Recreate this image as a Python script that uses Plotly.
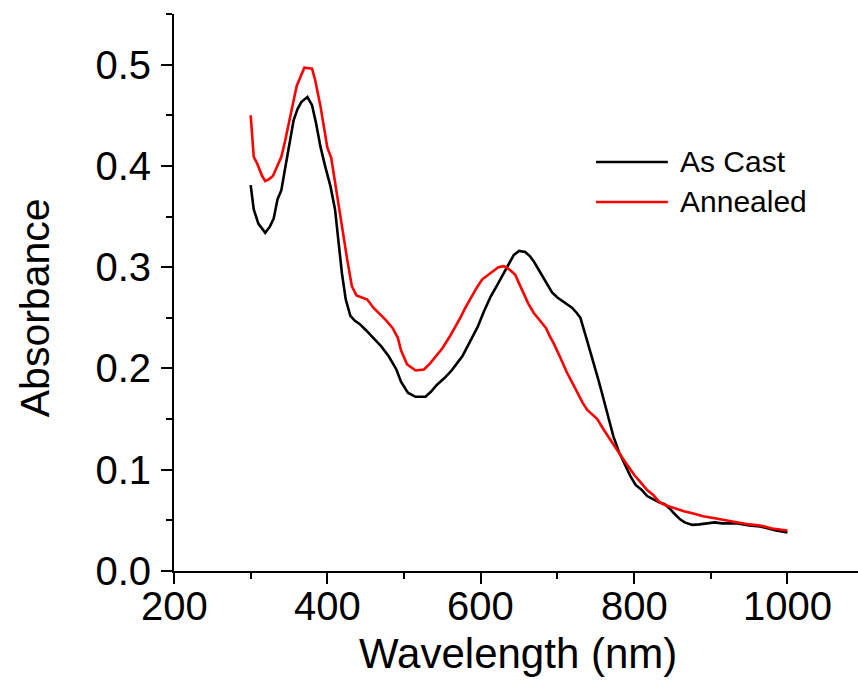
import plotly.graph_objects as go

wl_cast = [300, 304, 310, 319, 325, 330, 335, 340, 345, 351, 356, 361, 366, 374, 380, 385, 391, 397, 404, 410,
           413, 419, 424, 430, 436, 442, 450, 460, 470, 480, 490, 496, 505, 515, 528, 535, 543, 552, 561, 568,
           576, 585, 596, 604, 613, 622, 630, 637, 643, 650, 658, 664, 669, 676, 682, 688, 693, 700, 708, 714,
           719, 725, 730, 737, 742, 748, 753, 758, 763, 767, 773, 780, 787, 795, 802, 810, 817, 825, 832, 840,
           846, 852, 860, 866, 876, 885, 895, 905, 915, 935, 950, 964, 975, 985, 1000]
abs_cast = [0.381, 0.357, 0.343, 0.334, 0.340, 0.348, 0.367, 0.376, 0.398, 0.426, 0.445, 0.456, 0.463, 0.468,
            0.460, 0.443, 0.419, 0.400, 0.380, 0.357, 0.334, 0.294, 0.268, 0.252, 0.247, 0.244, 0.238, 0.230,
            0.222, 0.212, 0.199, 0.187, 0.176, 0.172, 0.172, 0.177, 0.184, 0.190, 0.197, 0.204, 0.212, 0.225,
            0.241, 0.256, 0.271, 0.283, 0.294, 0.304, 0.312, 0.316, 0.315, 0.311, 0.306, 0.297, 0.289, 0.281,
            0.275, 0.270, 0.266, 0.263, 0.260, 0.255, 0.250, 0.232, 0.219, 0.205, 0.190, 0.176, 0.161, 0.149,
            0.133, 0.118, 0.106, 0.094, 0.085, 0.080, 0.074, 0.071, 0.068, 0.066, 0.062, 0.057, 0.051, 0.048,
            0.0455, 0.046, 0.047, 0.048, 0.047, 0.047, 0.045, 0.044, 0.042, 0.040, 0.038]

wl_annealed = [300, 304, 308, 315, 319, 324, 329, 335, 340, 345, 350, 355, 360, 365, 370, 380, 384, 391, 395, 400,
               405, 410, 415, 419, 426, 432, 438, 445, 452, 460, 468, 476, 485, 492, 496, 504, 515, 526, 534, 542,
               550, 560, 567, 574, 580, 587, 595, 602, 613, 623, 630, 635, 640, 645, 650, 656, 662, 669, 677, 685,
               690, 695, 703, 713, 720, 726, 733, 739, 745, 752, 760, 770, 780, 790, 800, 808, 817, 825, 833, 841,
               852, 865, 876, 890, 905, 920, 935, 950, 964, 980, 1000]
abs_annealed = [0.450, 0.409, 0.403, 0.390, 0.385, 0.387, 0.390, 0.401, 0.409, 0.425, 0.442, 0.461, 0.479, 0.488,
                0.497, 0.496, 0.485, 0.459, 0.440, 0.418, 0.408, 0.383, 0.362, 0.340, 0.307, 0.281, 0.272, 0.270,
                0.268, 0.260, 0.254, 0.248, 0.240, 0.230, 0.218, 0.204, 0.198, 0.199, 0.205, 0.212, 0.220, 0.232,
                0.241, 0.251, 0.260, 0.270, 0.280, 0.288, 0.294, 0.300, 0.301, 0.299, 0.296, 0.2925, 0.284, 0.274,
                0.264, 0.255, 0.247, 0.240, 0.232, 0.225, 0.212, 0.195, 0.185, 0.176, 0.166, 0.159, 0.155, 0.150,
                0.140, 0.128, 0.117, 0.106, 0.095, 0.088, 0.080, 0.075, 0.068, 0.065, 0.062, 0.059, 0.057, 0.054,
                0.052, 0.050, 0.048, 0.046, 0.045, 0.042, 0.040]

series_names = ["As Cast", "Annealed"]
series_colors = ["#000000", "#ff0000"]
x_title = "Wavelength (nm)"
y_title = "Absorbance"
x_tick_values = [200, 400, 600, 800, 1000]
x_tick_labels = ["200", "400", "600", "800", "1000"]

FONT = "Liberation Sans, Arial, sans-serif"

fig = go.Figure()
fig.add_trace(go.Scatter(x=wl_cast, y=abs_cast, mode="lines", name=series_names[0],
                         line=dict(color=series_colors[0], width=2.6), showlegend=False))
fig.add_trace(go.Scatter(x=wl_annealed, y=abs_annealed, mode="lines", name=series_names[1],
                         line=dict(color=series_colors[1], width=2.6), showlegend=False))

# manual legend
leg_y = [0.7343, 0.6625]
for name, color, yy in zip(series_names, series_colors, leg_y):
    fig.add_shape(type="line", xref="paper", yref="paper", x0=0.617, x1=0.722, y0=yy, y1=yy,
                  line=dict(color=color, width=2.6))
    fig.add_annotation(xref="paper", yref="paper", x=0.737, y=yy, text=name, showarrow=False,
                       xanchor="left", yanchor="middle", font=dict(family=FONT, size=30, color="black"))

# x tick labels placed close to the axis
for v, lab in zip(x_tick_values, x_tick_labels):
    fig.add_annotation(xref="x", yref="paper", x=v, y=-0.0637, text=lab, showarrow=False,
                       xanchor="center", yanchor="middle", font=dict(family=FONT, size=40, color="black"))

# axis titles
fig.add_annotation(xref="paper", yref="paper", x=0.503, y=-0.149, text=x_title, showarrow=False,
                   xanchor="center", yanchor="middle", font=dict(family=FONT, size=42, color="black"))
fig.add_annotation(xref="paper", yref="paper", x=-0.203, y=0.472, text=y_title, showarrow=False,
                   textangle=-90, xanchor="center", yanchor="middle",
                   font=dict(family=FONT, size=41, color="black"))

fig.update_layout(
    width=858, height=686,
    margin=dict(l=174, r=0, t=14, b=115),
    paper_bgcolor="white", plot_bgcolor="white",
    font=dict(family=FONT, color="black"),
)
fig.update_xaxes(
    range=[200, 1092], automargin=False, showline=True, linecolor="black", linewidth=2, mirror=False,
    showgrid=False, zeroline=False, ticks="outside", ticklen=11, tickwidth=2, tickcolor="black",
    tick0=200, dtick=200, showticklabels=False,
    minor=dict(ticks="outside", ticklen=6, tickwidth=2, tickcolor="black", dtick=100, tick0=200, showgrid=False),
)
fig.update_yaxes(
    range=[0, 0.55], automargin=False, showline=True, linecolor="black", linewidth=2, mirror=False,
    showgrid=False, zeroline=False, ticks="outside", ticklen=11, tickwidth=2, tickcolor="black",
    tick0=0, dtick=0.1, tickformat=".1f", tickfont=dict(family=FONT, size=40), ticklabelstandoff=2,
    minor=dict(ticks="outside", ticklen=6, tickwidth=2, tickcolor="black", dtick=0.05, tick0=0, showgrid=False),
)

fig.write_html("out.html", config={"displayModeBar": False},
               post_script="document.body.style.margin='0';document.body.style.overflow='hidden';")
